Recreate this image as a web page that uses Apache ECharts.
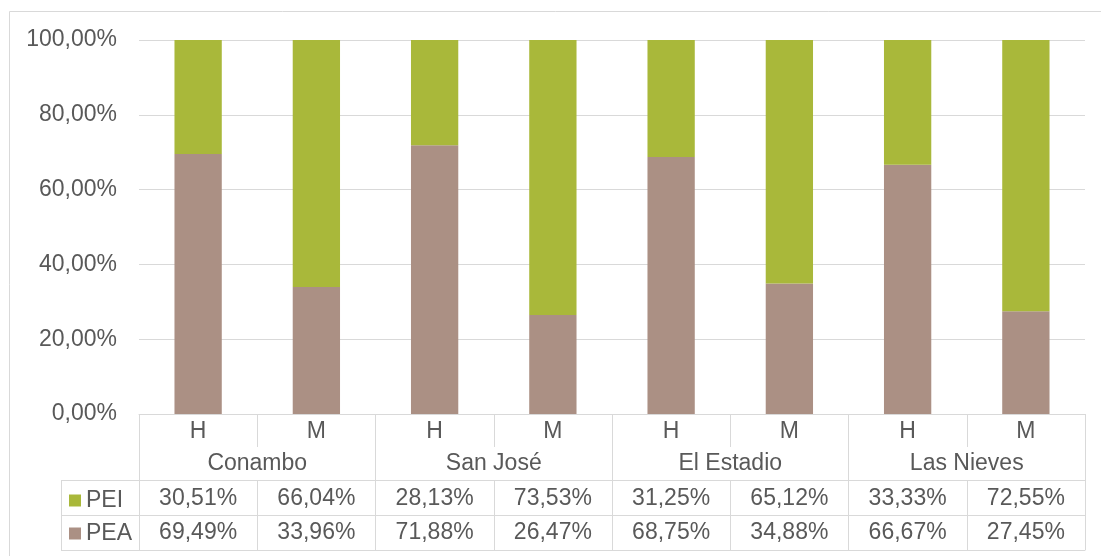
<!DOCTYPE html>
<html>
<head>
<meta charset="utf-8">
<script src="https://cdn.jsdelivr.net/npm/echarts@6/dist/echarts.min.js"></script>
<style>
  html, body { margin: 0; padding: 0; background: #fff; }
  #chart { width: 1101px; height: 556px; }
</style>
</head>
<body>
<div id="chart"></div>
<script>
const groups = ['Conambo', 'San José', 'El Estadio', 'Las Nieves']
const sexes = ['H', 'M', 'H', 'M', 'H', 'M', 'H', 'M']
const pei = [30.51, 66.04, 28.13, 73.53, 31.25, 65.12, 33.33, 72.55]
const pea = [69.49, 33.96, 71.88, 26.47, 68.75, 34.88, 66.67, 27.45]
const yTicks = [0, 20, 40, 60, 80, 100]

const txt = '#595959'
const line = '#d9d9d9'
const font = '"Liberation Sans", Arial, sans-serif'
const fs = 23
const pct = v => v.toFixed(2).replace('.', ',') + '%'

const chart = echarts.init(document.getElementById('chart'))

// each table row is a category axis sitting under the plot
function tableAxis(data, offset, tickLen, margin, showLabel) {
  return {
    type: 'category',
    data: data,
    position: 'bottom',
    offset: offset,
    axisLine: { show: true, lineStyle: { color: line, width: 1 } },
    axisTick: { show: tickLen > 0, length: tickLen, interval: 0, lineStyle: { color: line, width: 1 } },
    axisLabel: {
      show: showLabel, interval: 0, margin: margin,
      color: txt, fontSize: fs, lineHeight: 23, fontFamily: font
    },
    splitLine: { show: false }
  }
}

chart.setOption({
  animation: false,
  textStyle: { fontFamily: font },
  grid: { left: 139, right: 16, top: 40, bottom: 142, containLabel: false },
  legend: {
    data: ['PEI', 'PEA'],
    orient: 'vertical',
    left: 64, top: 484,
    icon: 'rect', itemWidth: 12, itemHeight: 12, itemGap: 10,
    textStyle: { color: txt, fontSize: fs, lineHeight: 23, fontFamily: font, padding: 0 }
  },
  xAxis: [
    tableAxis(sexes, 0, 33, 6, true),
    Object.assign(tableAxis(groups, 0, 136, 38, true), { axisLine: { show: false } }),
    tableAxis(pei.map(pct), 66, 35, 7, true),
    tableAxis(pea.map(pct), 101, 35, 6, true),
    tableAxis(sexes, 136, 0, 0, false)
  ],
  yAxis: {
    type: 'value', min: yTicks[0], max: yTicks[yTicks.length - 1], interval: 20,
    axisLine: { show: false }, axisTick: { show: false },
    axisLabel: { formatter: v => pct(v), color: txt, fontSize: fs, margin: 22, fontFamily: font },
    splitLine: { lineStyle: { color: line, width: 1 } }
  },
  graphic: [
    { type: 'rect', shape: { x: 9.5, y: 11.5, width: 1100, height: 560 }, style: { fill: null, stroke: line, lineWidth: 1 }, silent: true },
    { type: 'line', shape: { x1: 61.5, y1: 480, x2: 61.5, y2: 550 }, style: { stroke: line, lineWidth: 1 } },
    { type: 'line', shape: { x1: 61, y1: 480.5, x2: 139, y2: 480.5 }, style: { stroke: line, lineWidth: 1 } },
    { type: 'line', shape: { x1: 61, y1: 515.5, x2: 139, y2: 515.5 }, style: { stroke: line, lineWidth: 1 } },
    { type: 'line', shape: { x1: 61, y1: 550.5, x2: 139, y2: 550.5 }, style: { stroke: line, lineWidth: 1 } }
  ],
  series: [
    {
      name: 'PEA', type: 'bar', stack: 'total', barWidth: '40%', xAxisIndex: 0,
      itemStyle: { color: '#ab9084' }, data: pea
    },
    {
      name: 'PEI', type: 'bar', stack: 'total', barWidth: '40%', xAxisIndex: 0,
      itemStyle: { color: '#a9b83a' }, data: pei
    }
  ]
})
</script>
</body>
</html>
